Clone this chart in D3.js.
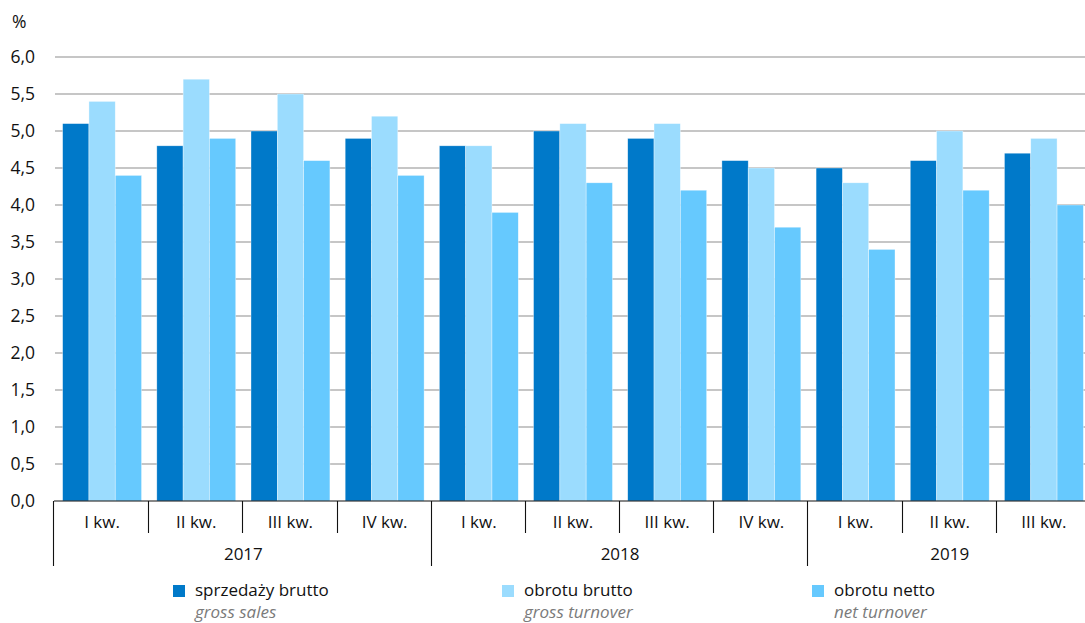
<!DOCTYPE html>
<html>
<head>
<meta charset="utf-8">
<script src="https://cdn.jsdelivr.net/npm/d3@7"></script>
<style>
  html, body { margin: 0; padding: 0; background: #fff; }
  svg { display: block; font-family: "Open Sans", "Noto Sans", sans-serif; }
</style>
</head>
<body>
<svg id="chart" width="1085" height="623"></svg>
<script>
// Quarters and years on the category axis
const quarters = ["I kw.", "II kw.", "III kw.", "IV kw.", "I kw.", "II kw.", "III kw.", "IV kw.", "I kw.", "II kw.", "III kw."];
const years = ["2017", "2018", "2019"];
const quartersPerYear = [4, 4, 3];

// Series values, %
const grossSales = [5.1, 4.8, 5.0, 4.9, 4.8, 5.0, 4.9, 4.6, 4.5, 4.6, 4.7];
const grossTurnover = [5.4, 5.7, 5.5, 5.2, 4.8, 5.1, 5.1, 4.5, 4.3, 5.0, 4.9];
const netTurnover = [4.4, 4.9, 4.6, 4.4, 3.9, 4.3, 4.2, 3.7, 3.4, 4.2, 4.0];

const seriesNames = ["sprzedaży brutto", "obrotu brutto", "obrotu netto"];
const seriesNamesEn = ["gross sales", "gross turnover", "net turnover"];
const seriesColors = ["#0079c9", "#9bdcfe", "#66c9fe"];
const seriesValues = [grossSales, grossTurnover, netTurnover];

const yTicks = [0, 0.5, 1, 1.5, 2, 2.5, 3, 3.5, 4, 4.5, 5, 5.5, 6];

(function draw() {
  const svg = d3.select("#chart");
  const mLeft = 55, mRight = 1091, mTop = 57, mBottom = 501;
  const ink = "#111111";

  const x = d3.scaleBand().domain(d3.range(quarters.length)).range([mLeft, mRight]).paddingInner(0).paddingOuter(0);
  const inner = d3.scaleBand().domain(d3.range(3)).range([0, x.bandwidth()]).paddingOuter(0.29).paddingInner(0);
  const y = d3.scaleLinear().domain([0, 6]).range([mBottom, mTop]);

  // Horizontal gridlines
  svg.append("g").selectAll("line").data(yTicks.filter(d => d > 0)).join("line")
    .attr("x1", mLeft).attr("x2", 1085)
    .attr("y1", d => y(d)).attr("y2", d => y(d))
    .attr("stroke", "#b3b3b3").attr("stroke-width", 1.6);

  // Y axis labels
  const fmt = d => d.toFixed(1).replace(".", ",");
  svg.append("g").selectAll("text").data(yTicks).join("text")
    .attr("x", 35).attr("y", d => y(d)).attr("dy", "0.36em")
    .attr("text-anchor", "end").attr("font-size", 17.5).attr("fill", ink)
    .text(fmt);
  svg.append("text").attr("x", 12).attr("y", 28).attr("font-size", 17.5).attr("fill", ink).text("%");

  // Bars
  const groups = svg.append("g").selectAll("g").data(quarters.map((q, i) => i)).join("g")
    .attr("transform", i => `translate(${x(i)},0)`);
  groups.selectAll("rect").data(i => seriesValues.map((s, k) => ({k, v: s[i]}))).join("rect")
    .attr("x", d => inner(d.k)).attr("width", inner.bandwidth())
    .attr("y", d => y(d.v)).attr("height", d => y(0) - y(d.v))
    .attr("fill", d => seriesColors[d.k])
    .attr("stroke", "#ffffff").attr("stroke-width", 0.6).attr("stroke-opacity", 0.6);

  // Category axis
  const axis = svg.append("g").attr("stroke", ink);
  axis.append("line").attr("x1", mLeft - 1).attr("x2", 1085).attr("y1", mBottom).attr("y2", mBottom).attr("stroke-width", 1.2);
  const yearStarts = [0];
  quartersPerYear.forEach((n, j) => yearStarts.push(yearStarts[j] + n));
  d3.range(quarters.length).forEach(i => {
    const isYear = yearStarts.includes(i);
    const xx = Math.round(x(i)) - 0.5 - (i === 0 ? 1 : 0);
    axis.append("line").attr("x1", xx).attr("x2", xx)
      .attr("y1", mBottom).attr("y2", isYear ? 566 : 533).attr("stroke-width", 1.1);
  });

  svg.append("g").selectAll("text").data(quarters).join("text")
    .attr("x", (d, i) => x(i) + x.bandwidth() / 2).attr("y", 528)
    .attr("text-anchor", "middle").attr("font-size", 17).attr("fill", ink)
    .text(d => d);

  svg.append("g").selectAll("text").data(years).join("text")
    .attr("x", (d, j) => (x(yearStarts[j]) + x(yearStarts[j + 1] - 1) + x.bandwidth()) / 2)
    .attr("y", 560).attr("text-anchor", "middle").attr("font-size", 17).attr("fill", ink)
    .text(d => d);

  // Legend
  const legendX = [173, 502, 812];
  const legend = svg.append("g").selectAll("g").data(seriesNames).join("g")
    .attr("transform", (d, k) => `translate(${legendX[k]},0)`);
  legend.append("rect").attr("x", 0).attr("y", 585).attr("width", 12).attr("height", 12)
    .attr("fill", (d, k) => seriesColors[k]);
  legend.append("text").attr("x", 22).attr("y", 596).attr("font-size", 17).attr("fill", ink).text(d => d);
  legend.append("text").attr("x", 22).attr("y", 617.5).attr("font-size", 17).attr("font-style", "italic")
    .attr("fill", "#7a7a7a").text((d, k) => seriesNamesEn[k]);
})();
</script>
</body>
</html>
